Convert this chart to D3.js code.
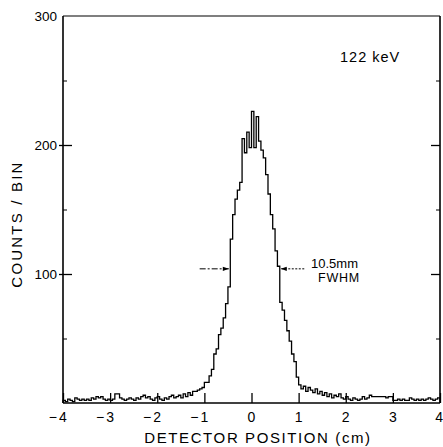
<!DOCTYPE html>
<html><head><meta charset="utf-8">
<script src="https://cdn.jsdelivr.net/npm/d3@7"></script>
<style>
body{margin:0;background:#fff}
svg{display:block}
text{font-family:"Liberation Sans",Arial,sans-serif;fill:#000}
</style>
</head><body><svg id="c" width="443" height="447"></svg>
<script>
// Histogram: 160 bins of 0.05 cm from -4.00 to +4.00 cm
const binStart = -4.0;
const binWidth = 0.05;
// background, -4.00 .. -1.25 cm
const countsLeft = [2,1,3,2,1,4,3,2,3,2, 3,2,4,3,5,4,5,3,2,3, 2,3,7,7,4,3,2,3,4,3,
  2,4,3,5,6,4,5,3,2,4, 5,3,2,4,3,5,6,4,5,6, 4,7,5,8,6,9];
// photopeak, -1.20 .. +1.00 cm
const countsPeak = [9,10,11,12,16,16,21,26,38,42, 53,58,66,77,90,127,146,158,165,171,
  205,194,210,198,226,198,222,203,196,190, 177,162,146,135,118,106,78,72,64,56,
  48,38,32,20,14];
// background, +1.05 .. +3.95 cm
const countsRight = [11,13,9,12,10,8,11,7,9,6, 8,5,7,4,6,5,7,4,3,5, 3,2,4,3,2,3,5,3,4,6,
  5,5,5,5,5,5,4,5,5,2, 2,3,2,3,2,2,4,3,2,3, 2,3,2,3,4,3,2,3,4];
const counts = countsLeft.concat(countsPeak, countsRight);

const xTicks = [-4,-3,-2,-1,0,1,2,3,4];
const yTicks = [100,200,300];
const yMinorTicks = [50,150,250];
const halfMax = 104;
const fwhmLeft = -0.46, fwhmRight = 0.60;

const svg = d3.select("#c");
const x = d3.scaleLinear().domain([-4,4]).range([63,440]);
const y = d3.scaleLinear().domain([0,300]).range([403,16]);

// frame
const frame = svg.append("g").attr("stroke","#000").attr("fill","none").attr("stroke-width",1.6);
frame.append("line").attr("x1",x(-4)).attr("x2",x(-4)).attr("y1",y(0)).attr("y2",y(300));
frame.append("line").attr("x1",x(-4)).attr("x2",x(4)).attr("y1",y(300)).attr("y2",y(300)).attr("stroke-width",1.2);
frame.append("line").attr("x1",x(4)).attr("x2",x(4)).attr("y1",y(0)).attr("y2",y(300));
frame.append("line").attr("x1",x(-4)).attr("x2",x(4)).attr("y1",y(0)).attr("y2",y(0));

// bottom ticks (inside)
const xa = svg.append("g").attr("transform",`translate(0,${y(0)})`)
  .call(d3.axisBottom(x).tickValues(xTicks).tickSize(-10).tickFormat(""));
xa.select(".domain").remove();
xa.selectAll("line").attr("stroke","#000").attr("stroke-width",1.3);

// bottom labels: digit centred on tick, minus sign hanging left
const xl = svg.append("g").attr("font-size",14);
xTicks.forEach(t=>{
  const edge = t === xTicks[xTicks.length-1];
  xl.append("text").attr("x",edge ? x(t)+3 : x(t)).attr("y",422)
    .attr("text-anchor",edge ? "end" : "middle").text(Math.abs(t));
  if(t<0) xl.append("text").attr("x",x(t)-6).attr("y",422).attr("text-anchor","end").text("\u2212");
});

// left axis ticks (cross the axis slightly)
const ya = svg.append("g").attr("transform",`translate(${x(-4)+9},0)`)
  .call(d3.axisLeft(y).tickValues(yTicks.filter(v=>v<300)).tickSize(13).tickFormat(""));
ya.select(".domain").remove();
ya.selectAll("line").attr("stroke","#000").attr("stroke-width",1.3);
const yam = svg.append("g").attr("transform",`translate(${x(-4)},0)`)
  .call(d3.axisLeft(y).tickValues(yMinorTicks).tickSize(-4).tickFormat(""));
yam.select(".domain").remove();
yam.selectAll("line").attr("stroke","#000").attr("stroke-width",1);
// right axis ticks
const yr = svg.append("g").attr("transform",`translate(${x(4)},0)`)
  .call(d3.axisRight(y).tickValues(yTicks.filter(v=>v<300)).tickSize(-9).tickFormat(""));
yr.select(".domain").remove();
yr.selectAll("line").attr("stroke","#000").attr("stroke-width",1.3);
const yrm = svg.append("g").attr("transform",`translate(${x(4)},0)`)
  .call(d3.axisRight(y).tickValues(yMinorTicks).tickSize(-4).tickFormat(""));
yrm.select(".domain").remove();
yrm.selectAll("line").attr("stroke","#000").attr("stroke-width",1);

// y labels
svg.append("g").attr("font-size",13.5).selectAll("text").data(yTicks).join("text")
  .attr("x",57).attr("y",d=>y(d)).attr("dy","0.36em").attr("text-anchor","end").text(d=>d);

// histogram step line
const path = d3.path();
path.moveTo(x(binStart), y(0));
counts.forEach((c,i)=>{
  const e0 = binStart + i*binWidth;
  path.lineTo(x(e0), y(c));
  path.lineTo(x(e0+binWidth), y(c));
});
path.lineTo(x(binStart+counts.length*binWidth), y(0));
svg.append("path").attr("d",path.toString()).attr("fill","none")
  .attr("stroke","#000").attr("stroke-width",1.3).attr("stroke-linejoin","miter");

// FWHM arrows
const defs = svg.append("defs");
defs.append("marker").attr("id","ah").attr("viewBox","0 0 10 10").attr("refX",10).attr("refY",5)
  .attr("markerWidth",7).attr("markerHeight",6).attr("orient","auto")
  .append("path").attr("d","M0,1.5 L10,5 L0,8.5 Z").attr("fill","#000");
svg.append("line").attr("x1",x(-1.1)).attr("x2",x(fwhmLeft)-1).attr("y1",y(halfMax)).attr("y2",y(halfMax))
  .attr("stroke","#000").attr("stroke-width",1).attr("stroke-dasharray","6,2,2,2").attr("marker-end","url(#ah)");
svg.append("line").attr("x1",x(1.12)).attr("x2",x(fwhmRight)+1).attr("y1",y(halfMax)).attr("y2",y(halfMax))
  .attr("stroke","#000").attr("stroke-width",1).attr("stroke-dasharray","2,1.5").attr("marker-end","url(#ah)");

// annotations
svg.append("text").attr("x",311).attr("y",268).attr("font-size",13).text("10.5mm");
svg.append("text").attr("x",318).attr("y",282).attr("font-size",12.5).attr("letter-spacing",0.8).text("FWHM");
svg.append("text").attr("x",340).attr("y",62).attr("font-size",14.5).attr("letter-spacing",1).text("122 keV");

// axis titles
svg.append("text").attr("x",258).attr("y",443).attr("text-anchor","middle").attr("font-size",15)
  .attr("letter-spacing",1.6).text("DETECTOR POSITION (cm)");
svg.append("text").attr("transform","translate(22,224) rotate(-90)").attr("text-anchor","middle")
  .attr("font-size",15).attr("letter-spacing",2.2).text("COUNTS / BIN");
</script>
</body></html>
